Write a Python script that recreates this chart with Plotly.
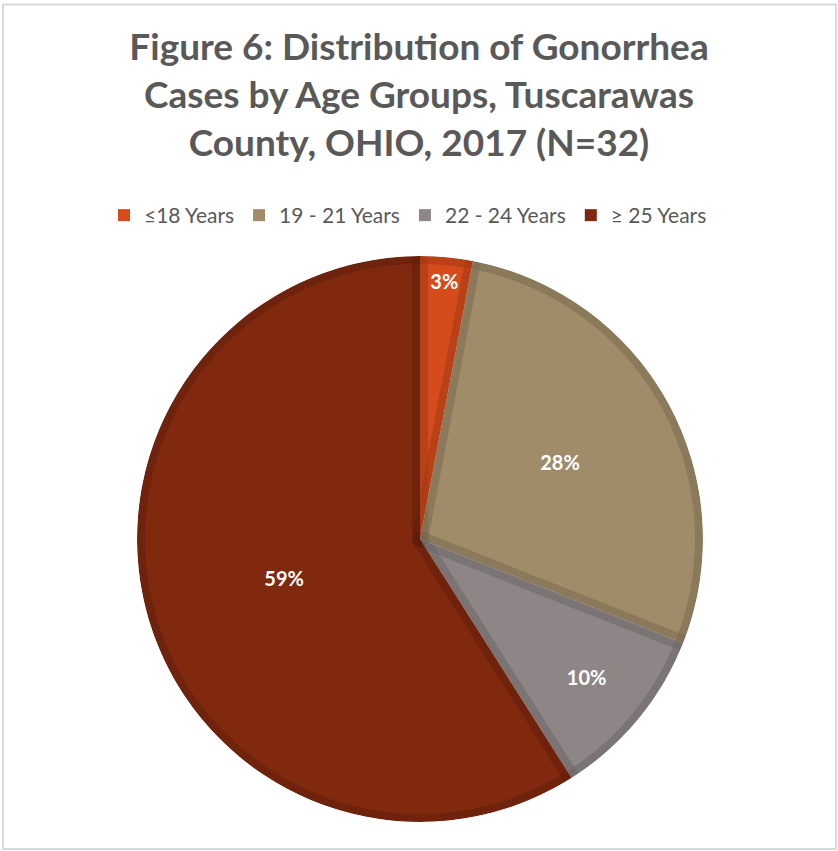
import plotly.graph_objects as go

# Age-group shares of gonorrhea cases (percent), Tuscarawas County, 2017
age_groups = ["≤18 Years", "19 - 21 Years", "22 - 24 Years", "≥ 25 Years"]
percent_cases = [3, 28, 10, 59]
fill_colors = ["#D54B1B", "#A08C69", "#8E8686", "#80290E"]

W, H = 838, 851
# pie placement in pixels
CX, CY, R = 420, 539, 283
RING = 16  # white collar that trims the stroke spill outside the disc


def dom(radius):
    return dict(
        x=[(CX - radius) / W, (CX + radius) / W],
        y=[(H - CY - radius) / H, (H - CY + radius) / H],
    )


fig = go.Figure()

# main pie with fills, labels and legend
fig.add_trace(go.Pie(
    labels=age_groups,
    values=percent_cases,
    sort=False,
    direction="clockwise",
    rotation=0,
    domain=dom(R),
    marker=dict(colors=fill_colors, line=dict(width=0)),
    textinfo="percent",
    texttemplate="%{percent:.0%}",
    textposition="inside",
    insidetextorientation="horizontal",
    textfont=dict(family="Lato", size=20, color="white", weight="bold"),
    hoverinfo="label+percent",
    showlegend=True,
))

# inner edge shading on every slice boundary
fig.add_trace(go.Pie(
    labels=age_groups,
    values=percent_cases,
    sort=False,
    direction="clockwise",
    rotation=0,
    domain=dom(R),
    marker=dict(colors=["rgba(0,0,0,0)"] * 4,
                line=dict(color="rgba(0,0,0,0.065)", width=16)),
    textinfo="none",
    hoverinfo="skip",
    showlegend=False,
))

# second pass on the rim so it matches the radial seams
fig.add_trace(go.Pie(
    labels=["rim"],
    values=[1],
    domain=dom(R),
    marker=dict(colors=["rgba(0,0,0,0)"],
                line=dict(color="rgba(0,0,0,0.065)", width=16)),
    textinfo="none",
    hoverinfo="skip",
    showlegend=False,
))

# white collar around the disc
fig.add_trace(go.Pie(
    labels=["collar"],
    values=[1],
    hole=R / (R + RING),
    domain=dom(R + RING),
    marker=dict(colors=["white"], line=dict(width=0)),
    textinfo="none",
    hoverinfo="skip",
    showlegend=False,
))

fig.update_layout(
    width=W,
    height=H,
    margin=dict(l=0, r=0, t=0, b=0),
    paper_bgcolor="white",
    plot_bgcolor="white",
    title=dict(
        text="Figure 6: Distribution of Gonorrhea<br>Cases by Age Groups, Tuscarawas<br>County, OHIO, 2017 (N=32)",
        x=0.5,
        xanchor="center",
        y=1 - 60 / H,
        yanchor="top",
        font=dict(family="Lato", size=37, color="#595959", weight="bold"),
    ),
    legend=dict(
        orientation="h",
        x=408 / W,
        xanchor="center",
        y=1 - 195 / H,
        yanchor="top",
        font=dict(family="Lato", size=21, color="#595959"),
        itemclick=False,
    ),
    shapes=[dict(
        type="rect", xref="paper", yref="paper",
        x0=3 / W, x1=836 / W, y0=1 - 849 / H, y1=1 - 4.5 / H,
        line=dict(color="#D9D9D9", width=2),
        fillcolor="rgba(0,0,0,0)",
        layer="below",
    )],
)

fig.write_html("out.html")
